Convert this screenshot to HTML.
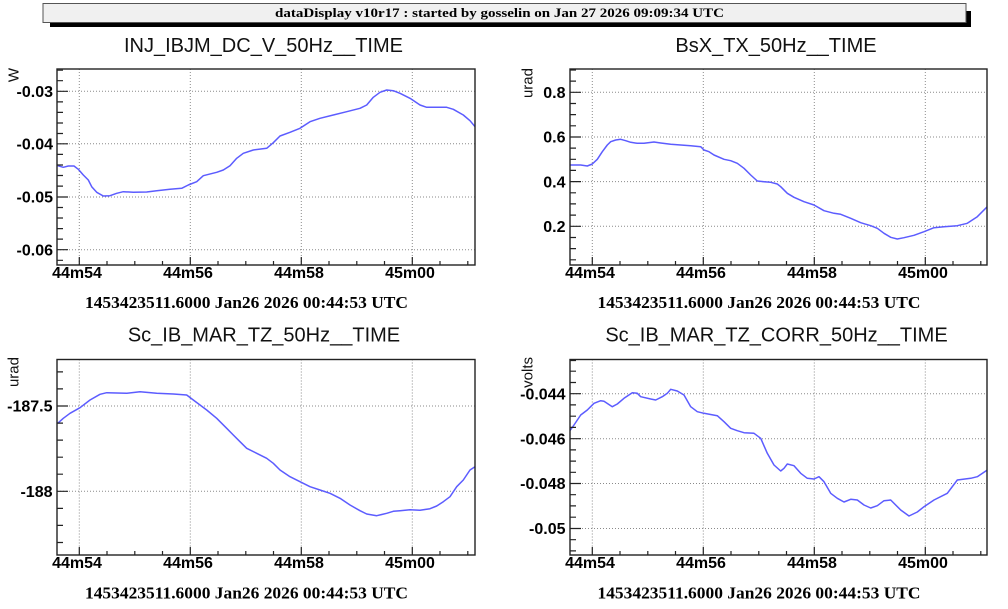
<!DOCTYPE html>
<html><head><meta charset="utf-8"><style>
html,body{margin:0;padding:0;background:#fff;}
svg{display:block;}
.tk{font-family:"Liberation Sans",Arial,sans-serif;font-weight:bold;font-size:16px;fill:#000;}
.tt{font-family:"Liberation Sans",Arial,sans-serif;font-size:20px;fill:#111;}
.un{font-family:"Liberation Sans",Arial,sans-serif;font-size:15px;fill:#111;}
.dt{font-family:"Liberation Serif","Times New Roman",serif;font-weight:bold;font-size:17px;fill:#000;}
.hd{font-family:"Liberation Serif","Times New Roman",serif;font-weight:bold;font-size:13px;fill:#000;}
.fr{fill:none;stroke:#222;stroke-width:1.4;}
.tc{fill:none;stroke:#222;stroke-width:1.2;}
.gr{fill:none;stroke:#8a8a8a;stroke-width:1;stroke-dasharray:1 2;}
.cv{fill:none;stroke:#5c5cff;stroke-width:1.5;stroke-linejoin:round;}
</style></head><body>
<svg width="1008" height="609" viewBox="0 0 1008 609" xmlns="http://www.w3.org/2000/svg">
<defs>
<clipPath id="c1"><rect x="57" y="69" width="418" height="196"/></clipPath>
<clipPath id="c2"><rect x="570" y="69" width="417" height="196"/></clipPath>
<clipPath id="c3"><rect x="57" y="359.5" width="418" height="195.5"/></clipPath>
<clipPath id="c4"><rect x="570" y="359.5" width="417" height="195.5"/></clipPath>
</defs>

<!-- header -->
<rect x="50" y="11" width="921" height="16" fill="#000"/>
<rect x="43" y="3.5" width="923" height="19" fill="#f0f0f0" stroke="#555" stroke-width="1"/>
<text class="hd" x="275" y="17" textLength="449" lengthAdjust="spacingAndGlyphs">dataDisplay v10r17 : started by gosselin on Jan 27 2026 09:09:34 UTC</text>

<!-- ============ Plot 1 (top-left) ============ -->
<text class="tt" x="263.5" y="52" text-anchor="middle">INJ_IBJM_DC_V_50Hz__TIME</text>
<path class="gr" d="M79.3 69V265M190.3 69V265M301.3 69V265M412.3 69V265M57 91.3H475M57 143.8H475M57 197H475M57 249.7H475"/>
<path class="cv" clip-path="url(#c1)" d="M57.7 165.7L63.3 167.3L68.3 166L74 166L78.3 169.3L83.3 175L88.3 180L91.7 186.7L96.7 192.3L103.3 196L110 195.7L116.7 193.3L123.3 191.7L133.3 192.3L146.7 192L156.7 190.7L170 189.3L181.7 188.3L188.3 185L196.7 181.7L203.3 175.7L216.7 172.3L223.3 170L230 165.7L236.7 158.3L243.3 153.3L253.3 150L266.7 148.3L273.3 142.7L280 136L290 132.3L300 128.3L310 121.7L320 118.3L333.3 115L346.7 111.7L360 108.3L366.7 105L373.3 97.3L380 92.3L386.7 90L393.3 90.7L400 93.3L410 98.3L420 105L426.7 107.3L446.7 107.3L453.3 109.3L463.3 115L470 120.7L475 126.7"/>
<rect class="fr" x="57" y="69" width="418" height="196"/>
<path class="tc" d="M57 91.3h11M57 143.8h11M57 197h11M57 249.7h11M57 70.2h6M57 80.7h6M57 101.9h6M57 112.4h6M57 123h6M57 133.5h6M57 154.4h6M57 165h6M57 175.5h6M57 186.1h6M57 207.5h6M57 218h6M57 228.6h6M57 239.1h6M57 260.3h6
M79.3 265v-8M190.3 265v-8M301.3 265v-8M412.3 265v-8M107 265v-4M134.8 265v-4M162.5 265v-4M218 265v-4M245.8 265v-4M273.5 265v-4M329 265v-4M356.8 265v-4M384.5 265v-4M440 265v-4M467.8 265v-4"/>
<text class="tk" x="53" y="97" text-anchor="end">-0.03</text>
<text class="tk" x="53" y="149.5" text-anchor="end">-0.04</text>
<text class="tk" x="53" y="202.7" text-anchor="end">-0.05</text>
<text class="tk" x="53" y="255.4" text-anchor="end">-0.06</text>
<text class="tk" x="77" y="278" text-anchor="middle">44m54</text>
<text class="tk" x="188" y="278" text-anchor="middle">44m56</text>
<text class="tk" x="299" y="278" text-anchor="middle">44m58</text>
<text class="tk" x="410" y="278" text-anchor="middle">45m00</text>
<text class="un" transform="translate(18.5,68) rotate(-90)" text-anchor="end">W</text>
<text class="dt" x="85" y="308" textLength="323" lengthAdjust="spacingAndGlyphs">1453423511.6000 Jan26 2026 00:44:53 UTC</text>

<!-- ============ Plot 2 (top-right) ============ -->
<text class="tt" x="776" y="52" text-anchor="middle">BsX_TX_50Hz__TIME</text>
<path class="gr" d="M592.3 69V265M703.3 69V265M814.3 69V265M925.3 69V265M570 92.3H987M570 137H987M570 181.6H987M570 226.3H987"/>
<path class="cv" clip-path="url(#c2)" d="M569.7 165L580.7 165L587.3 166L592.3 164L597.3 159.3L602.3 151.7L607.3 145L610.7 141.7L615.7 140L620.7 139.3L625.7 140.7L630.7 142.3L637.3 143.3L644 143.3L654 142L660.7 143L670.7 144.3L680.7 145L690.7 145.7L700.7 146.7L704 150L709 151.7L714 155L724 159.3L730.7 160.7L737.3 163.3L744 168.3L750.7 175L757.3 181L764 181.7L770.7 182.3L777.3 184L780.7 186.7L787.3 193.3L794 197.3L804 201.7L814 205L824 210.7L834 213.3L840.7 214.3L850.7 218.3L860.7 222.7L870.7 225.7L877.3 228.3L884 233.3L890.7 237.3L897.3 239L904 237.7L914 235.3L924 231.7L934 227.7L944 226.7L957.3 225.7L967.3 223.3L977.3 216.7L987.3 206.7"/>
<rect class="fr" x="570" y="69" width="417" height="196"/>
<path class="tc" d="M570 92.3h11M570 137h11M570 181.6h11M570 226.3h11M570 70h6M570 81.1h6M570 103.5h6M570 114.6h6M570 125.8h6M570 148.1h6M570 159.3h6M570 170.4h6M570 192.8h6M570 203.9h6M570 215.1h6M570 237.5h6M570 248.6h6M570 259.8h6
M592.3 265v-8M703.3 265v-8M814.3 265v-8M925.3 265v-8M620 265v-4M647.8 265v-4M675.5 265v-4M731 265v-4M758.8 265v-4M786.5 265v-4M842 265v-4M869.8 265v-4M897.5 265v-4M953 265v-4M980.8 265v-4"/>
<text class="tk" x="565.5" y="98" text-anchor="end">0.8</text>
<text class="tk" x="565.5" y="142.7" text-anchor="end">0.6</text>
<text class="tk" x="565.5" y="187.3" text-anchor="end">0.4</text>
<text class="tk" x="565.5" y="232" text-anchor="end">0.2</text>
<text class="tk" x="590" y="278" text-anchor="middle">44m54</text>
<text class="tk" x="701" y="278" text-anchor="middle">44m56</text>
<text class="tk" x="812" y="278" text-anchor="middle">44m58</text>
<text class="tk" x="923" y="278" text-anchor="middle">45m00</text>
<text class="un" transform="translate(532.5,68) rotate(-90)" text-anchor="end">urad</text>
<text class="dt" x="597.5" y="308" textLength="323" lengthAdjust="spacingAndGlyphs">1453423511.6000 Jan26 2026 00:44:53 UTC</text>

<!-- ============ Plot 3 (bottom-left) ============ -->
<text class="tt" x="264" y="341.7" text-anchor="middle">Sc_IB_MAR_TZ_50Hz__TIME</text>
<path class="gr" d="M79.3 359.5V555M190.3 359.5V555M301.3 359.5V555M412.3 359.5V555M57 406H475M57 491.3H475"/>
<path class="cv" clip-path="url(#c3)" d="M57.7 423.3L63.3 418.3L70 413.3L80 407.7L90 400L100 394.3L106.7 392.7L126.7 393.3L140 391.7L156.7 393.3L173.3 394L186.7 395L193.3 400L200 405L206.7 410L216.7 418.3L226.7 428.3L233.3 435L240 441.7L246.7 448.3L256.7 453.3L266.7 458.3L273.3 463.3L280 470L290 476.7L300 481.7L310 486.7L320 490L330 493.3L340 498.3L350 505L360 510.7L366.7 514L376.7 515.7L386.7 513.3L393.3 511.3L400 510.7L410 509.7L420 510.3L430 508.7L436.7 506L443.3 501.7L450 496.7L456.7 486.7L463.3 480L470 470L475 466.7"/>
<rect class="fr" x="57" y="359.5" width="418" height="195.5"/>
<path class="tc" d="M57 406h11M57 491.3h11M57 371.9h6M57 388.9h6M57 423.1h6M57 440.1h6M57 457.2h6M57 474.2h6M57 508.4h6M57 525.4h6M57 542.5h6
M79.3 555v-8M190.3 555v-8M301.3 555v-8M412.3 555v-8M107 555v-4M134.8 555v-4M162.5 555v-4M218 555v-4M245.8 555v-4M273.5 555v-4M329 555v-4M356.8 555v-4M384.5 555v-4M440 555v-4M467.8 555v-4"/>
<text class="tk" x="52.5" y="411.7" text-anchor="end">-187.5</text>
<text class="tk" x="52.5" y="497" text-anchor="end">-188</text>
<text class="tk" x="77" y="568" text-anchor="middle">44m54</text>
<text class="tk" x="188" y="568" text-anchor="middle">44m56</text>
<text class="tk" x="299" y="568" text-anchor="middle">44m58</text>
<text class="tk" x="410" y="568" text-anchor="middle">45m00</text>
<text class="un" transform="translate(18.5,357) rotate(-90)" text-anchor="end">urad</text>
<text class="dt" x="85" y="598.3" textLength="323" lengthAdjust="spacingAndGlyphs">1453423511.6000 Jan26 2026 00:44:53 UTC</text>

<!-- ============ Plot 4 (bottom-right) ============ -->
<text class="tt" x="776.5" y="341.7" text-anchor="middle">Sc_IB_MAR_TZ_CORR_50Hz__TIME</text>
<path class="gr" d="M592.3 359.5V555M703.3 359.5V555M814.3 359.5V555M925.3 359.5V555M570 393.7H987M570 438.7H987M570 483.5H987M570 528.5H987"/>
<path class="cv" clip-path="url(#c4)" d="M569.7 431L574 425L580.7 415L587.3 410L594 403.3L600.7 400.7L604 401.3L612.3 406.7L617.3 404L624 398.3L632.3 392.7L637.3 393.3L640.7 396.7L650.7 399L655.7 400L662.3 396.7L667.3 393.3L670.7 389.3L677.3 391L684 395L690.7 406.7L697.3 411.7L704 413.3L717.3 415.7L724 421.7L730.7 428.3L737.3 430.7L744 432.7L754 433.3L760.7 438.3L767.3 453.3L774 465L780.7 471L784 468.3L787.3 464L794 465.7L800.7 473.3L807.3 478.3L814 479L819 476.7L824 481.7L830.7 493.3L837.3 498.3L844 502L850.7 499.3L857.3 500L864 505L870.7 508L877.3 505.7L884 500.7L890.7 500L900.7 510L909 516L917.3 512L924 506.7L934 500L947.3 493.3L957.3 480L970.7 478.3L977.3 476.7L987.3 470"/>
<rect class="fr" x="570" y="359.5" width="417" height="195.5"/>
<path class="tc" d="M570 393.7h11M570 438.7h11M570 483.5h11M570 528.5h11M570 360.5h6M570 371.2h6M570 382.5h6M570 404.9h6M570 416.2h6M570 427.4h6M570 449.9h6M570 461.1h6M570 472.3h6M570 494.7h6M570 505.9h6M570 517.2h6M570 539.7h6M570 550.9h6
M592.3 555v-8M703.3 555v-8M814.3 555v-8M925.3 555v-8M620 555v-4M647.8 555v-4M675.5 555v-4M731 555v-4M758.8 555v-4M786.5 555v-4M842 555v-4M869.8 555v-4M897.5 555v-4M953 555v-4M980.8 555v-4"/>
<text class="tk" x="565.5" y="399.4" text-anchor="end">-0.044</text>
<text class="tk" x="565.5" y="444.4" text-anchor="end">-0.046</text>
<text class="tk" x="565.5" y="489.2" text-anchor="end">-0.048</text>
<text class="tk" x="565.5" y="534.2" text-anchor="end">-0.05</text>
<text class="tk" x="590" y="568" text-anchor="middle">44m54</text>
<text class="tk" x="701" y="568" text-anchor="middle">44m56</text>
<text class="tk" x="812" y="568" text-anchor="middle">44m58</text>
<text class="tk" x="923" y="568" text-anchor="middle">45m00</text>
<text class="un" transform="translate(532.5,357) rotate(-90)" text-anchor="end">volts</text>
<text class="dt" x="597.5" y="598.3" textLength="323" lengthAdjust="spacingAndGlyphs">1453423511.6000 Jan26 2026 00:44:53 UTC</text>
</svg>
</body></html>
